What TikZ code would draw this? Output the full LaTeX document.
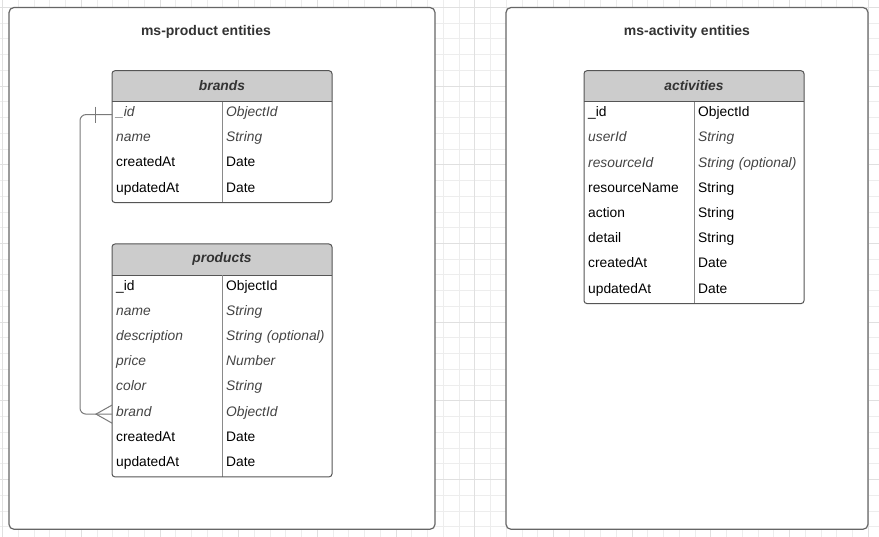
\documentclass[tikz,border=0pt]{standalone}
\usepackage{fontspec}
\setmainfont{Liberation Sans}
\usetikzlibrary{calc}
\definecolor{gridl}{HTML}{EDEDED}
\definecolor{gridd}{HTML}{E0E0E0}
\definecolor{boxline}{HTML}{666666}
\definecolor{tblline}{HTML}{555555}
\definecolor{divline}{HTML}{8A8A8A}
\definecolor{headfill}{HTML}{CCCCCC}
\definecolor{titletxt}{HTML}{333333}
\definecolor{ittxt}{HTML}{444444}
\definecolor{conn}{HTML}{7A7A7A}
\tikzset{
  container/.style={draw=boxline, line width=1.2pt, fill=white, rounded corners=5pt},
  ctitle/.style={font=\fontsize{14}{16}\selectfont\bfseries, text=titletxt, anchor=base, inner sep=0pt},
  cell/.style={rectangle, minimum width=110pt, minimum height=25.2pt, inner sep=0pt,
    inner xsep=4pt, text width=102pt, align=left, text height=9.5pt, text depth=5.5pt,
    anchor=north west, font=\fontsize{13.8}{16}\selectfont},
  nrm/.style={text=black},
  itl/.style={text=ittxt, font=\fontsize{13.8}{16}\selectfont\itshape},
  thead/.style={font=\fontsize{13.8}{16}\selectfont\bfseries\itshape, text=titletxt, inner sep=0pt},
  tborder/.style={draw=tblline, line width=1pt, rounded corners=3pt},
  connline/.style={draw=conn, line width=1pt},
}
\newcommand{\erow}[6]{%
  \node[cell,#6] (#1) at (#2,#3) {#4};
  \node[cell,#6] (#1-t) at (#2+110,#3) {#5};}
% table frame: x, top, header bottom, bottom
\newcommand{\tframe}[4]{%
  \fill[white, rounded corners=3pt] (#1,#2) rectangle (#1+220,#4);
  \fill[headfill, rounded corners=3pt] (#1,#2) rectangle (#1+220,#3);
  \fill[headfill] (#1,#3-6) rectangle (#1+220,#3);
  \draw[tblline, line width=1pt] (#1,#3) -- (#1+220,#3);
  \draw[divline, line width=1pt] (#1+110,#3) -- (#1+110,#4);
  \draw[tborder] (#1,#2) rectangle (#1+220,#4);}
\begin{document}
\begin{tikzpicture}[x=1pt, y=-1pt]
\useasboundingbox (0,0) rectangle (879,537);
\fill[white] (0,0) rectangle (879,537);
% grid
\foreach \k in {0,...,55} \draw[gridl, line width=0.8pt] (2.5+15.74*\k,0) -- (2.5+15.74*\k,537);
\foreach \k in {0,...,34} \draw[gridl, line width=0.8pt] (0,7.3+15.74*\k) -- (879,7.3+15.74*\k);
\foreach \k in {0,5,...,55} \draw[gridd, line width=0.8pt] (2.5+15.74*\k,0) -- (2.5+15.74*\k,537);
\foreach \k in {0,5,...,30} \draw[gridd, line width=0.8pt] (0,7.3+15.74*\k) -- (879,7.3+15.74*\k);

% containers
\draw[container] (9,7.5) rectangle (435,529.3);
\draw[container] (506,7.5) rectangle (868,529.3);
\node[ctitle] (t-prod) at (206,35.5) {ms-product entities};
\node[ctitle] (t-act) at (687,35.5) {ms-activity entities};

% brands table
\tframe{112}{70.7}{101.8}{202.6}
\node[thead] (brands) at (222,85.8) {brands};
\erow{b-id}{112}{101.8}{\_id}{ObjectId}{itl}
\erow{b-name}{112}{127}{name}{String}{itl}
\erow{b-cr}{112}{152.2}{createdAt}{Date}{nrm}
\erow{b-up}{112}{177.4}{updatedAt}{Date}{nrm}

% products table
\tframe{112}{244}{275.3}{476.9}
\node[thead] (products) at (222,259.1) {products};
\erow{p-id}{112}{275.3}{\_id}{ObjectId}{nrm}
\erow{p-name}{112}{300.5}{name}{String}{itl}
\erow{p-desc}{112}{325.7}{description}{String (optional)}{itl}
\erow{p-price}{112}{350.9}{price}{Number}{itl}
\erow{p-color}{112}{376.1}{color}{String}{itl}
\erow{p-brand}{112}{401.3}{brand}{ObjectId}{itl}
\erow{p-cr}{112}{426.5}{createdAt}{Date}{nrm}
\erow{p-up}{112}{451.7}{updatedAt}{Date}{nrm}

% activities table
\tframe{584}{70.7}{102}{303.6}
\node[thead] (activities) at (694,85.9) {activities};
\erow{a-id}{584}{102}{\_id}{ObjectId}{nrm}
\erow{a-user}{584}{127.2}{userId}{String}{itl}
\erow{a-rid}{584}{152.4}{resourceId}{String (optional)}{itl}
\erow{a-rname}{584}{177.6}{resourceName}{String}{nrm}
\erow{a-act}{584}{202.8}{action}{String}{nrm}
\erow{a-det}{584}{228}{detail}{String}{nrm}
\erow{a-cr}{584}{253.2}{createdAt}{Date}{nrm}
\erow{a-up}{584}{278.4}{updatedAt}{Date}{nrm}

% relationship brands (one) -> products (many)
\draw[connline, rounded corners=6pt] (b-id.west) -- ++(-32,0) |- (p-brand.west);
\draw[connline] ($(b-id.west)+(-17,-8)$) -- ($(b-id.west)+(-17,8)$);
\draw[connline] ($(p-brand.west)+(0,-9)$) -- ($(p-brand.west)+(-16,0)$) -- ($(p-brand.west)+(0,9)$);
\end{tikzpicture}
\end{document}
